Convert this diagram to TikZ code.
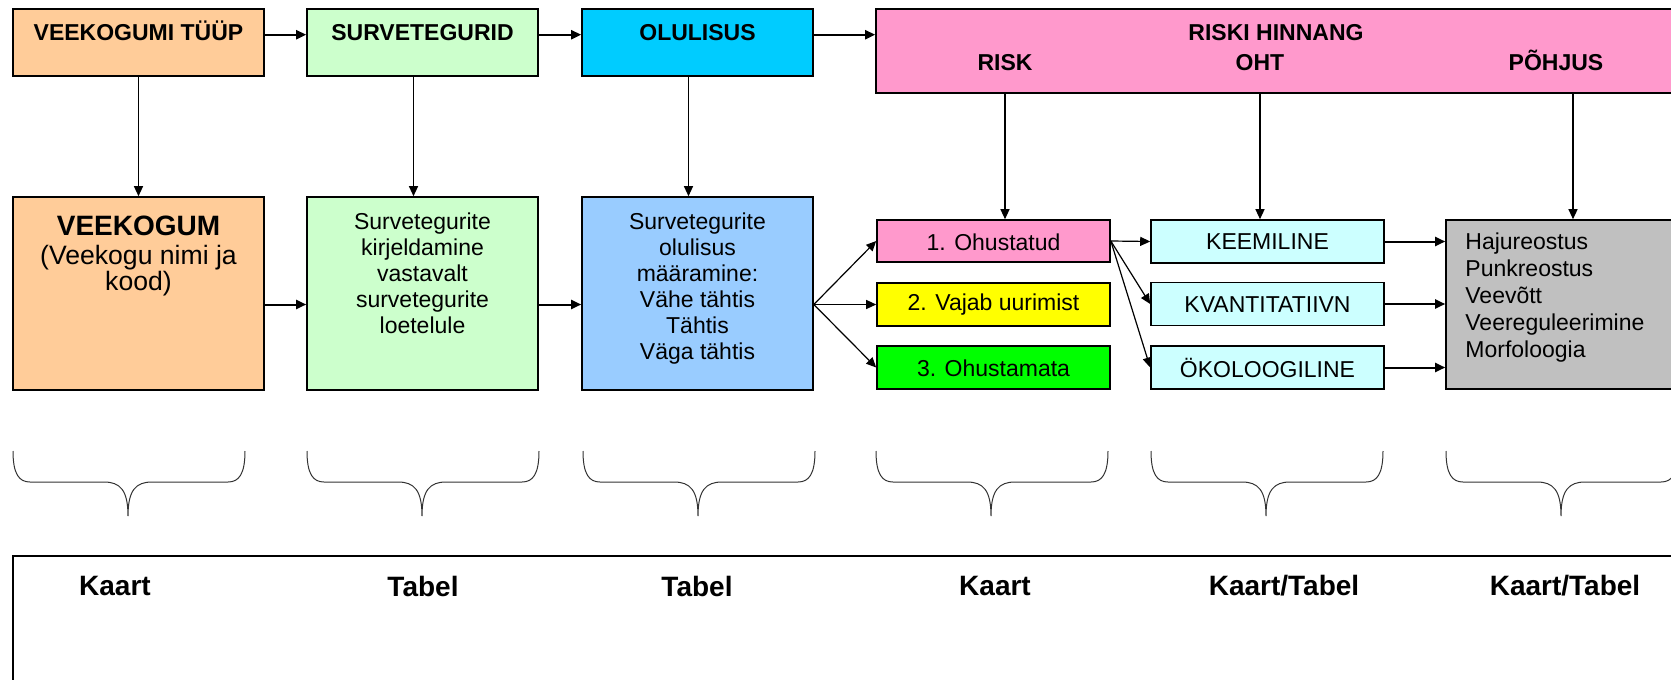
\documentclass[tikz,border=0pt]{standalone}
\usepackage{fontspec}
\setmainfont{Liberation Sans}
\usetikzlibrary{arrows.meta}

\definecolor{oranz}{HTML}{FFCC99}
\definecolor{heleroh}{HTML}{CCFFCC}
\definecolor{taevas}{HTML}{00CCFF}
\definecolor{helesin}{HTML}{99CCFF}
\definecolor{roosa}{HTML}{FF99CC}
\definecolor{kollane}{HTML}{FFFF00}
\definecolor{roheline}{HTML}{00FF00}
\definecolor{turkiis}{HTML}{CCFFFF}
\definecolor{hall}{HTML}{C0C0C0}

\tikzset{
    kast/.style={draw=black, line width=0.8pt, inner sep=0pt},
    tekst/.style={font=\fontsize{11.5}{13}\selectfont, align=center, inner sep=0pt},
    pea/.style={font=\bfseries\fontsize{11.5}{12.5}\selectfont, inner sep=0pt, anchor=base},
    alum/.style={font=\bfseries\fontsize{14}{15}\selectfont, inner sep=0pt},
    nool/.style={-{Triangle[length=5pt,width=4.5pt]}, line width=0.6pt},
    jamenool/.style={nool, line width=1pt},
    sulg/.style={draw=black!80, line width=0.5pt}
}

\begin{document}
\begin{tikzpicture}[x=0.5pt, y=-0.5pt]
    \clip (0,0) rectangle (1671,680);
    \fill [white] (0,0) rectangle (1671,680);

    \node [kast, fill=oranz, minimum width=125.5pt, minimum height=33.5pt] (tuup) at (138.5,42.5) {};
    \node [kast, fill=heleroh, minimum width=115.5pt, minimum height=33.5pt] (surv) at (422.5,42.5) {};
    \node [kast, fill=taevas, minimum width=115.5pt, minimum height=33.5pt] (olul) at (697.5,42.5) {};
    \node [kast, fill=roosa, minimum width=412pt, minimum height=42pt] (pink) at (1288,51) {};
    \node [pea] (tuuptxt) at (138.5,40) {VEEKOGUMI TÜÜP};
    \node [pea] (survtxt) at (422.5,40) {SURVETEGURID};
    \node [pea] (olultxt) at (697.5,40) {OLULISUS};
    \node [pea] (hinnang) at (1276,40) {RISKI HINNANG};
    \node [pea] (risk) at (1005,70) {RISK};
    \node [pea] (oht) at (1260,70) {OHT};
    \node [pea] (pohjus) at (1556,70) {PÕHJUS};

    \node [kast, fill=oranz, minimum width=125.5pt, minimum height=96.5pt] (veekogum) at (138.5,293.5) {};
    \node [kast, fill=heleroh, minimum width=115.5pt, minimum height=96.5pt] (survd) at (422.5,293.5) {};
    \node [kast, fill=helesin, minimum width=115.5pt, minimum height=96.5pt] (olud) at (697.5,293.5) {};
    \node [tekst, anchor=north] (veektxt) at (138.5,216)
        {\bfseries\fontsize{14}{14}\selectfont VEEKOGUM\\[1.5pt]
         \fontsize{13.3}{12.5}\selectfont (Veekogu nimi ja\\
         \fontsize{13.3}{12}\selectfont kood)};
    \node [tekst, anchor=north] (survdtxt) at (422.5,212)
        {Survetegurite\\kirjeldamine\\vastavalt\\survetegurite\\loetelule};
    \node [tekst, anchor=north] (oludtxt) at (697.5,212)
        {Survetegurite\\olulisus\\määramine:\\Vähe tähtis\\Tähtis\\Väga tähtis};

    \node [kast, fill=roosa, minimum width=116.5pt, minimum height=21pt] (ohu) at (993.5,241) {};
    \node [kast, fill=kollane, minimum width=116.5pt, minimum height=21.5pt] (vaja) at (993.5,304.5) {};
    \node [kast, fill=roheline, minimum width=116.5pt, minimum height=21.5pt] (ohum) at (993.5,367.5) {};
    \node [tekst] (ohutxt) at (993.5,242) {1. Ohustatud};
    \node [tekst] (vajatxt) at (993.5,305) {2. Vajab uurimist};
    \node [tekst] (ohumtxt) at (993.5,368) {3. Ohustamata};

    \node [kast, fill=turkiis, minimum width=116.5pt, minimum height=21.5pt] (keem) at (1267.5,241.5) {};
    \node [kast, fill=turkiis, minimum width=116.5pt, minimum height=21.5pt] (kvan) at (1267.5,304) {};
    \node [kast, fill=turkiis, minimum width=116.5pt, minimum height=21.5pt] (oko) at (1267.5,367.5) {};
    \node [tekst] (keemtxt) at (1267.5,242) {KEEMILINE};
    \node [tekst] (kvantxt) at (1267.5,305) {KVANTITATIIVN};
    \node [tekst] (okotxt) at (1267.5,368) {ÖKOLOOGILINE};

    \node [kast, fill=hall, minimum width=127pt, minimum height=84.5pt] (hall) at (1573,304.5) {};
    \node [tekst, align=left, anchor=north west, font=\fontsize{11.5}{13.5}\selectfont] (halltxt) at (1465,232)
        {Hajureostus\\Punkreostus\\Veevõtt\\Veereguleerimine\\Morfoloogia};

    \draw [jamenool] (tuuptxt.mid -| tuup.east) -- (tuuptxt.mid -| surv.west);
    \draw [jamenool] (tuuptxt.mid -| surv.east) -- (tuuptxt.mid -| olul.west);
    \draw [jamenool] (tuuptxt.mid -| olul.east) -- (tuuptxt.mid -| pink.west);

    \draw [nool] (tuup.south) -- (veekogum.north);
    \draw [nool] ([xshift=-4.5pt]surv.south) -- ([xshift=-4.5pt]survd.north);
    \draw [nool] ([xshift=-4.5pt]olul.south) -- ([xshift=-4.5pt]olud.north);
    \draw [nool] (risk |- pink.south) -- (risk |- ohu.north);
    \draw [nool] (oht |- pink.south) -- (oht |- keem.north);
    \draw [nool] (hall.north |- pink.south) -- (hall.north);

    \draw [jamenool] (veekogum.east |- vaja) -- (survd.west |- vaja);
    \draw [jamenool] (survd.east |- vaja) -- (olud.west |- vaja);
    \draw [nool] (olud.east |- vaja) -- (ohu.west);
    \draw [nool] (olud.east |- vaja) -- (vaja.west);
    \draw [nool] (olud.east |- vaja) -- (ohum.west);
    \draw [nool] (ohu.east) -- (keem.west);
    \draw [nool] (ohu.east) -- (kvan.west);
    \draw [nool] (ohu.east) -- (oko.west);
    \draw [jamenool] (keem.east) -- (keem.east -| hall.west);
    \draw [jamenool] (kvan.east) -- (kvan.east -| hall.west);
    \draw [jamenool] (oko.east) -- (oko.east -| hall.west);

    \foreach \L in {13,307,583,876,1151,1446}
        \draw [sulg] (\L,451) .. controls (\L,474) and (\L+6,482) .. (\L+17,482)
            -- (\L+91,482) .. controls (\L+107,482) and (\L+115,490) .. (\L+115,516)
            .. controls (\L+115,490) and (\L+123,482) .. (\L+139,482)
            -- (\L+215,482) .. controls (\L+226,482) and (\L+232,474) .. (\L+232,451);

    \node [kast, line width=1pt, minimum width=843.5pt, minimum height=82pt] (alus) at (856.5,638) {};
    \node [alum] (k1) at (115,586) {Kaart};
    \node [alum] (k2) at (423,586) {Tabel};
    \node [alum] (k3) at (697,586) {Tabel};
    \node [alum] (k4) at (995,586) {Kaart};
    \node [alum] (k5) at (1284,586) {Kaart/Tabel};
    \node [alum] (k6) at (1565,586) {Kaart/Tabel};
\end{tikzpicture}
\end{document}
